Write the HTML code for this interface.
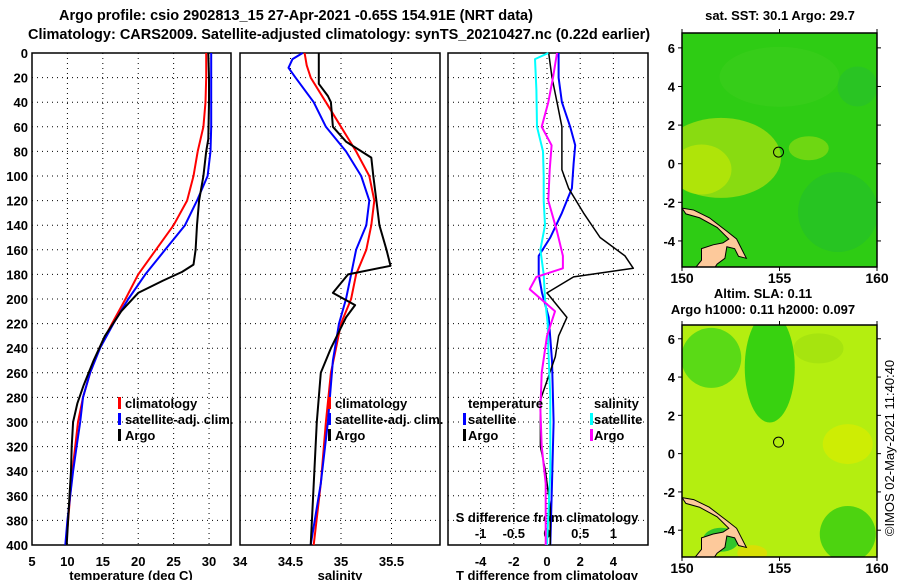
<!DOCTYPE html>
<html><head><meta charset="utf-8"><style>
html,body{margin:0;padding:0;background:#fff;}
svg{display:block;font-family:"Liberation Sans",sans-serif;font-weight:bold;}
</style></head><body>
<svg id="c" width="900" height="580" viewBox="0 0 900 580" xmlns="http://www.w3.org/2000/svg">
<text x="296" y="20" font-size="14.5" text-anchor="middle">Argo profile: csio 2902813_15 27-Apr-2021 -0.65S 154.91E (NRT data)</text>
<text x="28" y="39" font-size="14.5">Climatology: CARS2009. Satellite-adjusted climatology: synTS_20210427.nc (0.22d earlier)</text>
<g id="plots"></g>
<g id="maps"></g>
</svg>
<script>
// ---- data ----
const depthTicks=[0,20,40,60,80,100,120,140,160,180,200,220,240,260,280,300,320,340,360,380,400];
const tTicks=[5,10,15,20,25,30];
const sTicks=[34,34.5,35,35.5];
const sTickLabels=["34","34.5","35","35.5"];
const dTTicks=[-4,-2,0,2,4];
const dSTicks=[-1,-0.5,0,0.5,1];
const dSTickLabels=["-1","-0.5","0","0.5","1"];

const tClimDepth=[0,20,40,60,80,100,120,140,160,180,200,220,240,260,280,300,320,340,360,380,400];
const tClim=[29.6,29.6,29.5,29.2,28.4,27.8,26.9,25,22.5,20,18.2,16.3,14.5,13.2,12.2,11.5,11.1,10.7,10.4,10.1,9.8];
const tSatDepth=[0,20,40,60,80,100,120,140,150,160,180,200,220,240,260,280,300,320,340,360,380,400];
const tSat=[30.3,30.3,30.3,30.3,30.2,29.8,28.3,26.6,25.2,23.8,21,18.6,16.5,14.6,13.2,12.2,11.8,11.3,10.8,10.4,10,9.7];
const tArgoDepth=[0,20,40,70,80,100,120,140,160,172,178,185,195,210,230,250,270,285,300,320,340,360,380,400];
const tArgo=[29.9,30,30,29.9,29.6,29.2,28.6,28.3,28.1,27.8,26.2,23.5,20,17.6,15.3,13.7,12.3,11.4,10.8,10.6,10.5,10.3,10.1,9.9];

const sClimDepth=[0,10,20,40,60,80,100,120,140,160,180,200,220,240,260,300,350,400];
const sClim=[34.64,34.66,34.7,34.85,35,35.15,35.28,35.33,35.3,35.25,35.15,35.1,35.0,34.95,34.9,34.85,34.8,34.73];
const sSatDepth=[0,5,12,20,40,60,80,100,120,140,160,180,200,220,250,300,350,400];
const sSat=[34.62,34.52,34.48,34.55,34.73,34.85,35.05,35.2,35.28,35.25,35.15,35.1,35.05,34.98,34.92,34.87,34.8,34.7];
const sArgoDepth=[0,25,35,40,60,72,85,100,120,140,160,173,180,195,205,215,240,260,280,300,400];
const sArgo=[34.78,34.78,34.87,34.9,34.92,35.05,35.3,35.32,35.35,35.38,35.45,35.49,35.07,34.92,35.14,35.05,34.9,34.8,34.78,34.76,34.7];

const dTSatDepth=[0,20,40,60,75,90,110,130,150,165,180,195,215,250,300,350,400];
const dTSat=[0.7,0.7,0.9,1.4,1.7,1.6,1.5,0.9,0.2,-0.5,-0.5,-0.3,0.1,0.3,0.4,0.3,0.2];
const dTArgoDepth=[0,20,40,60,80,95,110,130,150,165,175,182,195,215,230,247,282,320,339,370,400];
const dTArgo=[0.1,0.3,0.6,0.9,0.9,0.9,1.3,2.2,3.2,4.7,5.2,1.6,0,1.2,0.7,0.5,-0.4,-0.4,-0.1,0.2,0.2];
const dSSatDepth=[0,5,30,60,80,100,120,140,160,180,200,220,240,280,340,400];
const dSSat=[0.02,-0.18,-0.16,-0.15,-0.06,-0.05,-0.05,-0.03,-0.1,-0.05,-0.03,0.01,0.02,0.05,0.05,0.0];
const dSArgoDepth=[0,20,40,60,75,95,120,145,165,175,182,192,210,230,260,290,320,350,400];
const dSArgo=[0.15,0.09,0.02,-0.08,0.07,0.04,0.02,0.15,0.24,0.24,-0.16,-0.26,0.12,0,-0.08,-0.1,-0.08,-0.02,-0.02];

const latTicks=[6,4,2,0,-2,-4];
const lonTicks=[150,155,160];
const argoLat=0.6, argoLon=154.95;

(function(){
const NS="http://www.w3.org/2000/svg";
function mk(tag,attrs,parent){const e=document.createElementNS(NS,tag);for(const k in attrs)e.setAttribute(k,attrs[k]);parent.appendChild(e);return e;}
const pTop=53,pBot=545;
const yD=d=>pTop+(d/400)*(pBot-pTop);
const plots=document.getElementById('plots');

function panel(name){
  const g=mk('g',{},plots);
  
  
  return g;
}
function line(g,xs,ds,xf,color,w,name){
  let d='';for(let i=0;i<xs.length;i++){d+=(i?'L':'M')+xf(xs[i]).toFixed(1)+','+yD(ds[i]).toFixed(1);}
  const p=mk('path',{d:d,fill:'none',stroke:color,'stroke-width':w,'stroke-linejoin':'round'},g);
  
  
}
function grid(g,x0,x1,xTickVals,xf){
  for(const d of depthTicks){if(d>0&&d<400){const l=mk('line',{x1:x0,x2:x1,y1:yD(d),y2:yD(d),stroke:'#000','stroke-width':1,'stroke-dasharray':'1,4'},g);
    }}
  for(const v of xTickVals){const x=xf(v);if(x>x0+1&&x<x1-1){const l=mk('line',{x1:x,x2:x,y1:pTop,y2:pBot,stroke:'#000','stroke-width':1,'stroke-dasharray':'1,4'},g);
    }}
  const r=mk('rect',{x:x0,y:pTop,width:x1-x0,height:pBot-pTop,fill:'none',stroke:'#000','stroke-width':1.5},g);
  
}
function txt(g,x,y,s,anchor,size,name,fill){
  const t=mk('text',{x:x,y:y,'text-anchor':anchor||'start','font-size':size||13,fill:fill||'#000'},g);
  t.textContent=s;
  
  
  return t;
}
function legMark(g,x,y,color){
  const r=mk('rect',{x:x,y:y-11,width:3,height:12,fill:color},g);
  
}

// ---- panel 1 ----
const xT=v=>32+(v-5)*(199/28.1);
const g1=panel('temperature-panel');
grid(g1,32,231,tTicks,xT);
for(const d of depthTicks)txt(g1,28,yD(d)+5,String(d),'end',13,'depth-tick-label');
for(const v of tTicks)txt(g1,xT(v),566,String(v),'middle',13,'temperature-tick-label');
txt(g1,240,566,'34','middle',13,'x-tick-label');
txt(g1,131,580,'temperature (deg C)','middle',13,'temperature-axis-title');
line(g1,tClim,tClimDepth,xT,'#ff0000',2,'temperature-climatology-line');
line(g1,tSat,tSatDepth,xT,'#0000ff',2,'temperature-satellite-line');
line(g1,tArgo,tArgoDepth,xT,'#000000',2,'temperature-argo-line');
legMark(g1,118,408,'#ff0000');txt(g1,125,408,'climatology','start',13,'legend-climatology');
legMark(g1,118,424,'#0000ff');txt(g1,125,424,'satellite-adj. clim.','start',13,'legend-satellite-adj');
legMark(g1,118,440,'#000');txt(g1,125,440,'Argo','start',13,'legend-argo');

// ---- panel 2 ----
const xS=v=>240+(v-34)*101;
const g2=panel('salinity-panel');
grid(g2,240,440,sTicks,xS);
sTicks.forEach((v,i)=>{if(i>0)txt(g2,xS(v),566,sTickLabels[i],'middle',13,'salinity-tick-label');});
txt(g2,340,580,'salinity','middle',13,'salinity-axis-title');
line(g2,sClim,sClimDepth,xS,'#ff0000',2,'salinity-climatology-line');
line(g2,sSat,sSatDepth,xS,'#0000ff',2,'salinity-satellite-line');
line(g2,sArgo,sArgoDepth,xS,'#000000',2,'salinity-argo-line');
legMark(g2,328,408,'#ff0000');txt(g2,335,408,'climatology','start',13,'legend-climatology');
legMark(g2,328,424,'#0000ff');txt(g2,335,424,'satellite-adj. clim.','start',13,'legend-satellite-adj');
legMark(g2,328,440,'#000');txt(g2,335,440,'Argo','start',13,'legend-argo');

// ---- panel 3 ----
const xdT=v=>547+v*16.6;
const xdS=v=>547+v*66.4;
const g3=panel('difference-panel');
grid(g3,448,648,dTTicks,xdT);
dTTicks.forEach(v=>txt(g3,xdT(v),566,String(v),'middle',13,'t-diff-tick-label'));
dSTicks.forEach((v,i)=>txt(g3,xdS(v),538,dSTickLabels[i],'middle',13,'s-diff-tick-label'));
txt(g3,547,522,'S difference from climatology','middle',13,'s-diff-axis-title');
txt(g3,547,580,'T difference from climatology','middle',13,'t-diff-axis-title');
line(g3,dTSat,dTSatDepth,xdT,'#0000ff',2,'t-diff-satellite-line');
line(g3,dTArgo,dTArgoDepth,xdT,'#000',1.5,'t-diff-argo-line');
line(g3,dSSat,dSSatDepth,xdS,'#00ffff',2,'s-diff-satellite-line');
line(g3,dSArgo,dSArgoDepth,xdS,'#ff00ff',2,'s-diff-argo-line');
txt(g3,468,408,'temperature','start',13,'legend-temperature-heading');
legMark(g3,463,424,'#0000ff');txt(g3,468,424,'satellite','start',13,'legend-t-satellite');
legMark(g3,463,440,'#000');txt(g3,468,440,'Argo','start',13,'legend-t-argo');
txt(g3,594,408,'salinity','start',13,'legend-salinity-heading');
legMark(g3,590,424,'#00ffff');txt(g3,594,424,'satellite','start',13,'legend-s-satellite');
legMark(g3,590,440,'#ff00ff');txt(g3,594,440,'Argo','start',13,'legend-s-argo');

// ---- maps ----
const maps=document.getElementById('maps');
function map(y0,y1,latTop,latBot,base,blobs,name){
  const x0=682,x1=877;
  const g=mk('g',{},maps);
  
  const lx=v=>x0+(v-150)*(x1-x0)/10;
  const ly=v=>y0+(latTop-v)*(y1-y0)/(latTop-latBot);
  const cid=name+'-clip';
  const cp=mk('clipPath',{id:cid},g);mk('rect',{x:x0,y:y0,width:x1-x0,height:y1-y0},cp);
  const inner=mk('g',{'clip-path':'url(#'+cid+')'},g);
  const bg=mk('rect',{x:x0,y:y0,width:x1-x0,height:y1-y0,fill:base},inner);
  
  for(const b of blobs){const e=mk('ellipse',{cx:lx(b[0]),cy:ly(b[1]),rx:b[2],ry:b[3],fill:b[4],opacity:b[5]},inner);
    }
  const land=mk('path',{d:`M${lx(150)},${ly(-2.3)} L${lx(150.6)},${ly(-2.4)} L${lx(151.4)},${ly(-2.8)} L${lx(152.3)},${ly(-3.5)} L${lx(152.8)},${ly(-3.9)} L${lx(153.0)},${ly(-4.3)} L${lx(153.3)},${ly(-4.9)} L${lx(152.9)},${ly(-4.8)} L${lx(152.7)},${ly(-4.4)} L${lx(152.3)},${ly(-4.3)} L${lx(152.2)},${ly(-4.9)} L${lx(151.8)},${ly(-5.2)} L${lx(151.6)},${ly(-5.5)} L${lx(150.6)},${ly(-5.5)} L${lx(151.0)},${ly(-5.0)} L${lx(151.0)},${ly(-4.4)} L${lx(151.6)},${ly(-4.2)} L${lx(152.1)},${ly(-4.1)} L${lx(152.4)},${ly(-3.9)} L${lx(151.8)},${ly(-3.3)} L${lx(150.9)},${ly(-2.8)} L${lx(150.2)},${ly(-2.6)} Z`,fill:'#fdc99b',stroke:'#000','stroke-width':1},inner);
  
  const fr=mk('rect',{x:x0,y:y0,width:x1-x0,height:y1-y0,fill:'none',stroke:'#000','stroke-width':1.5},g);
  
  const c=mk('circle',{cx:lx(argoLon),cy:ly(argoLat),r:5,fill:'none',stroke:'#000','stroke-width':1},g);
  
  for(const v of latTicks){
    mk('line',{x1:x0-4,x2:x0,y1:ly(v),y2:ly(v),stroke:'#000'},g);
    mk('line',{x1:x1,x2:x1+4,y1:ly(v),y2:ly(v),stroke:'#000'},g);
    txt(g,x0-7,ly(v)+5,String(v),'end',13,'latitude-tick-label');
  }
  for(const v of lonTicks){
    mk('line',{x1:lx(v),x2:lx(v),y1:y0-4,y2:y0,stroke:'#000'},g);
    mk('line',{x1:lx(v),x2:lx(v),y1:y1,y2:y1+4,stroke:'#000'},g);
    txt(g,lx(v),y1+16,String(v),'middle',14,'longitude-tick-label');
  }
}
map(33,267,6.77,-5.35,'#2ecc14',[
 [152,0.3,60,40,'#a8e010',0.75],[151,-0.3,30,25,'#c8ea05',0.6],[156.5,0.8,20,12,'#9ade10',0.6],
 [158,-2.5,40,40,'#20bb30',0.5],[155,4.5,60,30,'#44d020',0.4],[159,4,20,20,'#22b83a',0.4]],'sst-map');
map(325,557,6.72,-5.4,'#b4ee10',[
 [154.5,4.5,25,55,'#22cc10',0.85],[151.5,5,30,30,'#44d418',0.8],[158.5,-4.2,28,28,'#33cc10',0.8],
 [152,-4.5,18,12,'#22c030',0.9],[158.5,0.5,25,20,'#d8ec00',0.7],[153.6,-5.2,15,8,'#e8d800',0.7],[157,5.5,25,15,'#a0e010',0.7]],'sla-map');
txt(maps,780,20,'sat. SST: 30.1 Argo: 29.7','middle',13,'sst-map-title');
txt(maps,763,298,'Altim. SLA: 0.11','middle',13,'sla-map-title');
txt(maps,763,314,'Argo h1000: 0.11 h2000: 0.097','middle',13,'argo-height-title');
const cr=txt(maps,0,0,'©IMOS 02-May-2021 11:40:40','middle',13,'credit-timestamp');
cr.setAttribute('font-weight','normal');
cr.setAttribute('transform','translate(894,448) rotate(-90)');
})();
</script>
</body></html>
